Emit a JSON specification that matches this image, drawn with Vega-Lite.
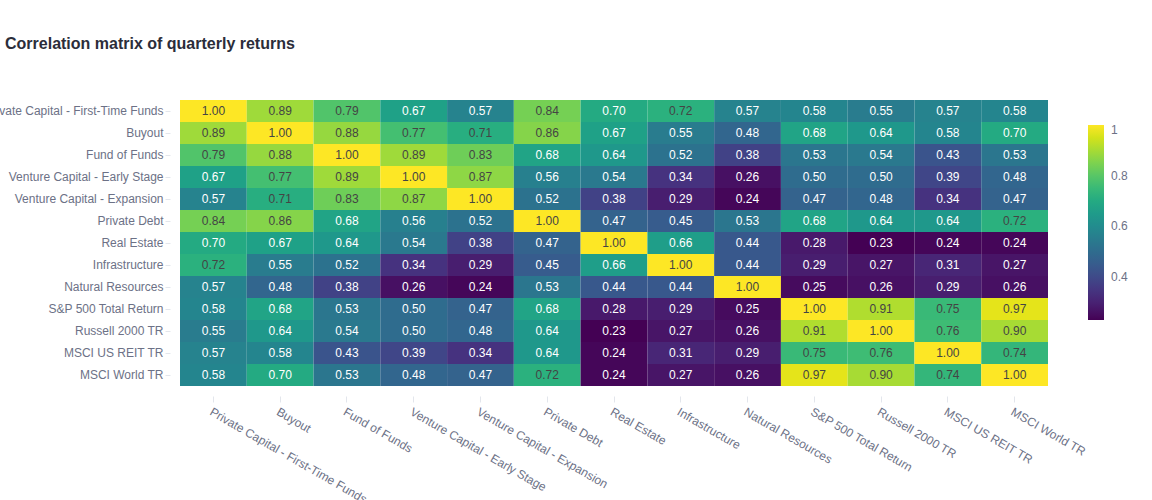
{
  "$schema": "https://vega.github.io/schema/vega-lite/v6.json",
  "autosize": {"type": "none"},
  "padding": {"left": 180, "top": 100, "right": 104, "bottom": 114},
  "width": 868,
  "height": 286,
  "background": "white",
  "config": {
    "font": "Liberation Sans",
    "view": {"stroke": null},
    "axis": {"labelFont": "Liberation Sans", "labelFontSize": 12, "labelColor": "#6c7186", "domain": false, "grid": false, "tickColor": "#e3e6ec", "tickSize": 5, "title": null}
  },
  "title": {"text": "Correlation matrix of quarterly returns", "anchor": "start", "frame": "group", "dx": -175, "offset": 35, "baseline": "alphabetic", "fontSize": 16, "fontWeight": "bold", "color": "#2b2d3a", "font": "Liberation Sans"},
  "data": {"values": [
    {"r":"Private Capital - First-Time Funds","c":"Private Capital - First-Time Funds","v":1.00},
    {"r":"Private Capital - First-Time Funds","c":"Buyout","v":0.89},
    {"r":"Private Capital - First-Time Funds","c":"Fund of Funds","v":0.79},
    {"r":"Private Capital - First-Time Funds","c":"Venture Capital - Early Stage","v":0.67},
    {"r":"Private Capital - First-Time Funds","c":"Venture Capital - Expansion","v":0.57},
    {"r":"Private Capital - First-Time Funds","c":"Private Debt","v":0.84},
    {"r":"Private Capital - First-Time Funds","c":"Real Estate","v":0.70},
    {"r":"Private Capital - First-Time Funds","c":"Infrastructure","v":0.72},
    {"r":"Private Capital - First-Time Funds","c":"Natural Resources","v":0.57},
    {"r":"Private Capital - First-Time Funds","c":"S&P 500 Total Return","v":0.58},
    {"r":"Private Capital - First-Time Funds","c":"Russell 2000 TR","v":0.55},
    {"r":"Private Capital - First-Time Funds","c":"MSCI US REIT TR","v":0.57},
    {"r":"Private Capital - First-Time Funds","c":"MSCI World TR","v":0.58},
    {"r":"Buyout","c":"Private Capital - First-Time Funds","v":0.89},
    {"r":"Buyout","c":"Buyout","v":1.00},
    {"r":"Buyout","c":"Fund of Funds","v":0.88},
    {"r":"Buyout","c":"Venture Capital - Early Stage","v":0.77},
    {"r":"Buyout","c":"Venture Capital - Expansion","v":0.71},
    {"r":"Buyout","c":"Private Debt","v":0.86},
    {"r":"Buyout","c":"Real Estate","v":0.67},
    {"r":"Buyout","c":"Infrastructure","v":0.55},
    {"r":"Buyout","c":"Natural Resources","v":0.48},
    {"r":"Buyout","c":"S&P 500 Total Return","v":0.68},
    {"r":"Buyout","c":"Russell 2000 TR","v":0.64},
    {"r":"Buyout","c":"MSCI US REIT TR","v":0.58},
    {"r":"Buyout","c":"MSCI World TR","v":0.70},
    {"r":"Fund of Funds","c":"Private Capital - First-Time Funds","v":0.79},
    {"r":"Fund of Funds","c":"Buyout","v":0.88},
    {"r":"Fund of Funds","c":"Fund of Funds","v":1.00},
    {"r":"Fund of Funds","c":"Venture Capital - Early Stage","v":0.89},
    {"r":"Fund of Funds","c":"Venture Capital - Expansion","v":0.83},
    {"r":"Fund of Funds","c":"Private Debt","v":0.68},
    {"r":"Fund of Funds","c":"Real Estate","v":0.64},
    {"r":"Fund of Funds","c":"Infrastructure","v":0.52},
    {"r":"Fund of Funds","c":"Natural Resources","v":0.38},
    {"r":"Fund of Funds","c":"S&P 500 Total Return","v":0.53},
    {"r":"Fund of Funds","c":"Russell 2000 TR","v":0.54},
    {"r":"Fund of Funds","c":"MSCI US REIT TR","v":0.43},
    {"r":"Fund of Funds","c":"MSCI World TR","v":0.53},
    {"r":"Venture Capital - Early Stage","c":"Private Capital - First-Time Funds","v":0.67},
    {"r":"Venture Capital - Early Stage","c":"Buyout","v":0.77},
    {"r":"Venture Capital - Early Stage","c":"Fund of Funds","v":0.89},
    {"r":"Venture Capital - Early Stage","c":"Venture Capital - Early Stage","v":1.00},
    {"r":"Venture Capital - Early Stage","c":"Venture Capital - Expansion","v":0.87},
    {"r":"Venture Capital - Early Stage","c":"Private Debt","v":0.56},
    {"r":"Venture Capital - Early Stage","c":"Real Estate","v":0.54},
    {"r":"Venture Capital - Early Stage","c":"Infrastructure","v":0.34},
    {"r":"Venture Capital - Early Stage","c":"Natural Resources","v":0.26},
    {"r":"Venture Capital - Early Stage","c":"S&P 500 Total Return","v":0.50},
    {"r":"Venture Capital - Early Stage","c":"Russell 2000 TR","v":0.50},
    {"r":"Venture Capital - Early Stage","c":"MSCI US REIT TR","v":0.39},
    {"r":"Venture Capital - Early Stage","c":"MSCI World TR","v":0.48},
    {"r":"Venture Capital - Expansion","c":"Private Capital - First-Time Funds","v":0.57},
    {"r":"Venture Capital - Expansion","c":"Buyout","v":0.71},
    {"r":"Venture Capital - Expansion","c":"Fund of Funds","v":0.83},
    {"r":"Venture Capital - Expansion","c":"Venture Capital - Early Stage","v":0.87},
    {"r":"Venture Capital - Expansion","c":"Venture Capital - Expansion","v":1.00},
    {"r":"Venture Capital - Expansion","c":"Private Debt","v":0.52},
    {"r":"Venture Capital - Expansion","c":"Real Estate","v":0.38},
    {"r":"Venture Capital - Expansion","c":"Infrastructure","v":0.29},
    {"r":"Venture Capital - Expansion","c":"Natural Resources","v":0.24},
    {"r":"Venture Capital - Expansion","c":"S&P 500 Total Return","v":0.47},
    {"r":"Venture Capital - Expansion","c":"Russell 2000 TR","v":0.48},
    {"r":"Venture Capital - Expansion","c":"MSCI US REIT TR","v":0.34},
    {"r":"Venture Capital - Expansion","c":"MSCI World TR","v":0.47},
    {"r":"Private Debt","c":"Private Capital - First-Time Funds","v":0.84},
    {"r":"Private Debt","c":"Buyout","v":0.86},
    {"r":"Private Debt","c":"Fund of Funds","v":0.68},
    {"r":"Private Debt","c":"Venture Capital - Early Stage","v":0.56},
    {"r":"Private Debt","c":"Venture Capital - Expansion","v":0.52},
    {"r":"Private Debt","c":"Private Debt","v":1.00},
    {"r":"Private Debt","c":"Real Estate","v":0.47},
    {"r":"Private Debt","c":"Infrastructure","v":0.45},
    {"r":"Private Debt","c":"Natural Resources","v":0.53},
    {"r":"Private Debt","c":"S&P 500 Total Return","v":0.68},
    {"r":"Private Debt","c":"Russell 2000 TR","v":0.64},
    {"r":"Private Debt","c":"MSCI US REIT TR","v":0.64},
    {"r":"Private Debt","c":"MSCI World TR","v":0.72},
    {"r":"Real Estate","c":"Private Capital - First-Time Funds","v":0.70},
    {"r":"Real Estate","c":"Buyout","v":0.67},
    {"r":"Real Estate","c":"Fund of Funds","v":0.64},
    {"r":"Real Estate","c":"Venture Capital - Early Stage","v":0.54},
    {"r":"Real Estate","c":"Venture Capital - Expansion","v":0.38},
    {"r":"Real Estate","c":"Private Debt","v":0.47},
    {"r":"Real Estate","c":"Real Estate","v":1.00},
    {"r":"Real Estate","c":"Infrastructure","v":0.66},
    {"r":"Real Estate","c":"Natural Resources","v":0.44},
    {"r":"Real Estate","c":"S&P 500 Total Return","v":0.28},
    {"r":"Real Estate","c":"Russell 2000 TR","v":0.23},
    {"r":"Real Estate","c":"MSCI US REIT TR","v":0.24},
    {"r":"Real Estate","c":"MSCI World TR","v":0.24},
    {"r":"Infrastructure","c":"Private Capital - First-Time Funds","v":0.72},
    {"r":"Infrastructure","c":"Buyout","v":0.55},
    {"r":"Infrastructure","c":"Fund of Funds","v":0.52},
    {"r":"Infrastructure","c":"Venture Capital - Early Stage","v":0.34},
    {"r":"Infrastructure","c":"Venture Capital - Expansion","v":0.29},
    {"r":"Infrastructure","c":"Private Debt","v":0.45},
    {"r":"Infrastructure","c":"Real Estate","v":0.66},
    {"r":"Infrastructure","c":"Infrastructure","v":1.00},
    {"r":"Infrastructure","c":"Natural Resources","v":0.44},
    {"r":"Infrastructure","c":"S&P 500 Total Return","v":0.29},
    {"r":"Infrastructure","c":"Russell 2000 TR","v":0.27},
    {"r":"Infrastructure","c":"MSCI US REIT TR","v":0.31},
    {"r":"Infrastructure","c":"MSCI World TR","v":0.27},
    {"r":"Natural Resources","c":"Private Capital - First-Time Funds","v":0.57},
    {"r":"Natural Resources","c":"Buyout","v":0.48},
    {"r":"Natural Resources","c":"Fund of Funds","v":0.38},
    {"r":"Natural Resources","c":"Venture Capital - Early Stage","v":0.26},
    {"r":"Natural Resources","c":"Venture Capital - Expansion","v":0.24},
    {"r":"Natural Resources","c":"Private Debt","v":0.53},
    {"r":"Natural Resources","c":"Real Estate","v":0.44},
    {"r":"Natural Resources","c":"Infrastructure","v":0.44},
    {"r":"Natural Resources","c":"Natural Resources","v":1.00},
    {"r":"Natural Resources","c":"S&P 500 Total Return","v":0.25},
    {"r":"Natural Resources","c":"Russell 2000 TR","v":0.26},
    {"r":"Natural Resources","c":"MSCI US REIT TR","v":0.29},
    {"r":"Natural Resources","c":"MSCI World TR","v":0.26},
    {"r":"S&P 500 Total Return","c":"Private Capital - First-Time Funds","v":0.58},
    {"r":"S&P 500 Total Return","c":"Buyout","v":0.68},
    {"r":"S&P 500 Total Return","c":"Fund of Funds","v":0.53},
    {"r":"S&P 500 Total Return","c":"Venture Capital - Early Stage","v":0.50},
    {"r":"S&P 500 Total Return","c":"Venture Capital - Expansion","v":0.47},
    {"r":"S&P 500 Total Return","c":"Private Debt","v":0.68},
    {"r":"S&P 500 Total Return","c":"Real Estate","v":0.28},
    {"r":"S&P 500 Total Return","c":"Infrastructure","v":0.29},
    {"r":"S&P 500 Total Return","c":"Natural Resources","v":0.25},
    {"r":"S&P 500 Total Return","c":"S&P 500 Total Return","v":1.00},
    {"r":"S&P 500 Total Return","c":"Russell 2000 TR","v":0.91},
    {"r":"S&P 500 Total Return","c":"MSCI US REIT TR","v":0.75},
    {"r":"S&P 500 Total Return","c":"MSCI World TR","v":0.97},
    {"r":"Russell 2000 TR","c":"Private Capital - First-Time Funds","v":0.55},
    {"r":"Russell 2000 TR","c":"Buyout","v":0.64},
    {"r":"Russell 2000 TR","c":"Fund of Funds","v":0.54},
    {"r":"Russell 2000 TR","c":"Venture Capital - Early Stage","v":0.50},
    {"r":"Russell 2000 TR","c":"Venture Capital - Expansion","v":0.48},
    {"r":"Russell 2000 TR","c":"Private Debt","v":0.64},
    {"r":"Russell 2000 TR","c":"Real Estate","v":0.23},
    {"r":"Russell 2000 TR","c":"Infrastructure","v":0.27},
    {"r":"Russell 2000 TR","c":"Natural Resources","v":0.26},
    {"r":"Russell 2000 TR","c":"S&P 500 Total Return","v":0.91},
    {"r":"Russell 2000 TR","c":"Russell 2000 TR","v":1.00},
    {"r":"Russell 2000 TR","c":"MSCI US REIT TR","v":0.76},
    {"r":"Russell 2000 TR","c":"MSCI World TR","v":0.90},
    {"r":"MSCI US REIT TR","c":"Private Capital - First-Time Funds","v":0.57},
    {"r":"MSCI US REIT TR","c":"Buyout","v":0.58},
    {"r":"MSCI US REIT TR","c":"Fund of Funds","v":0.43},
    {"r":"MSCI US REIT TR","c":"Venture Capital - Early Stage","v":0.39},
    {"r":"MSCI US REIT TR","c":"Venture Capital - Expansion","v":0.34},
    {"r":"MSCI US REIT TR","c":"Private Debt","v":0.64},
    {"r":"MSCI US REIT TR","c":"Real Estate","v":0.24},
    {"r":"MSCI US REIT TR","c":"Infrastructure","v":0.31},
    {"r":"MSCI US REIT TR","c":"Natural Resources","v":0.29},
    {"r":"MSCI US REIT TR","c":"S&P 500 Total Return","v":0.75},
    {"r":"MSCI US REIT TR","c":"Russell 2000 TR","v":0.76},
    {"r":"MSCI US REIT TR","c":"MSCI US REIT TR","v":1.00},
    {"r":"MSCI US REIT TR","c":"MSCI World TR","v":0.74},
    {"r":"MSCI World TR","c":"Private Capital - First-Time Funds","v":0.58},
    {"r":"MSCI World TR","c":"Buyout","v":0.70},
    {"r":"MSCI World TR","c":"Fund of Funds","v":0.53},
    {"r":"MSCI World TR","c":"Venture Capital - Early Stage","v":0.48},
    {"r":"MSCI World TR","c":"Venture Capital - Expansion","v":0.47},
    {"r":"MSCI World TR","c":"Private Debt","v":0.72},
    {"r":"MSCI World TR","c":"Real Estate","v":0.24},
    {"r":"MSCI World TR","c":"Infrastructure","v":0.27},
    {"r":"MSCI World TR","c":"Natural Resources","v":0.26},
    {"r":"MSCI World TR","c":"S&P 500 Total Return","v":0.97},
    {"r":"MSCI World TR","c":"Russell 2000 TR","v":0.90},
    {"r":"MSCI World TR","c":"MSCI US REIT TR","v":0.74},
    {"r":"MSCI World TR","c":"MSCI World TR","v":1.00}
  ]},
  "encoding": {
    "x": {"field": "c", "type": "nominal",
      "sort": ["Private Capital - First-Time Funds","Buyout","Fund of Funds","Venture Capital - Early Stage","Venture Capital - Expansion","Private Debt","Real Estate","Infrastructure","Natural Resources","S&P 500 Total Return","Russell 2000 TR","MSCI US REIT TR","MSCI World TR"],
      "scale": {"paddingInner": 0, "paddingOuter": 0},
      "axis": {"labelAngle": 30, "labelAlign": "left", "labelBaseline": "top", "offset": 10, "tickSize": 6, "labelPadding": 4}},
    "y": {"field": "r", "type": "nominal",
      "sort": ["Private Capital - First-Time Funds","Buyout","Fund of Funds","Venture Capital - Early Stage","Venture Capital - Expansion","Private Debt","Real Estate","Infrastructure","Natural Resources","S&P 500 Total Return","Russell 2000 TR","MSCI US REIT TR","MSCI World TR"],
      "scale": {"paddingInner": 0, "paddingOuter": 0},
      "axis": {"offset": 10, "tickSize": 5, "labelPadding": 2}}
  },
  "layer": [
    {"mark": {"type": "rect"},
     "encoding": {
       "color": {"field": "v", "type": "quantitative",
         "scale": {"scheme": "viridis", "zero": false, "nice": false},
         "legend": {"title": null, "orient": "none", "legendX": 908, "legendY": 25, "direction": "vertical",
           "gradientLength": 195, "gradientThickness": 16, "gradientStrokeWidth": 0,
           "values": [0.4, 0.6, 0.8, 1], "format": ".1~f", "labelOffset": 7,
           "labelFontSize": 12, "labelColor": "#6c7186", "labelFont": "Liberation Sans"}}
     }},
    {"mark": {"type": "text", "fontSize": 12, "font": "Liberation Sans"},
     "encoding": {
       "text": {"field": "v", "type": "quantitative", "format": ".2f"},
       "color": {"condition": {"test": "datum.v >= 0.705", "value": "#444444"}, "value": "#ffffff"}
     }}
  ]
}
